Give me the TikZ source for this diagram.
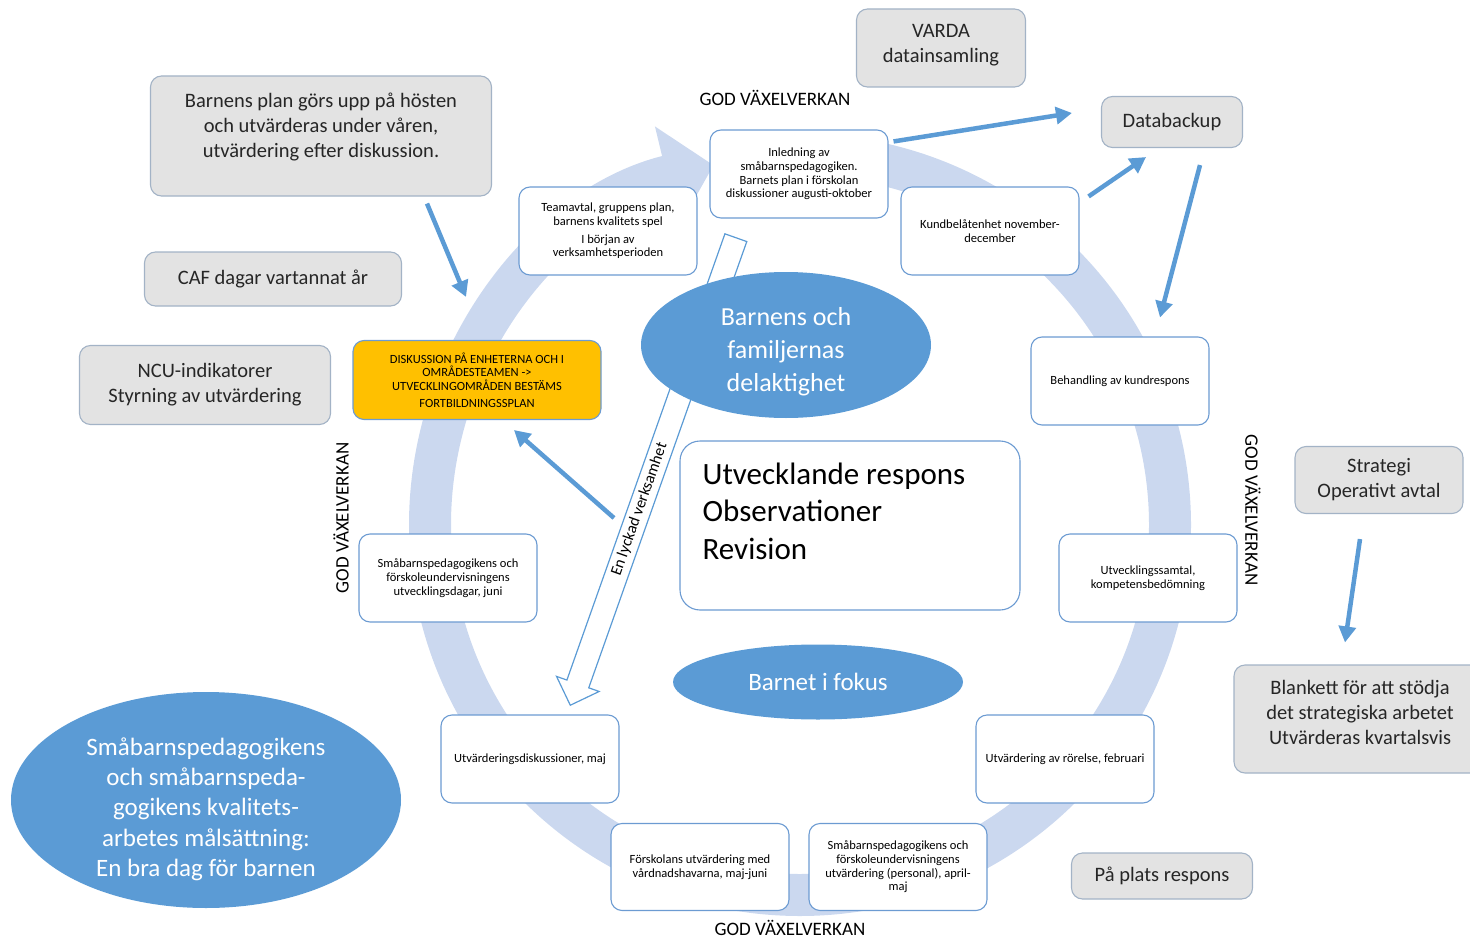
\documentclass[tikz,border=0pt]{standalone}
\usepackage{fontspec}
\setmainfont{Carlito}
\usetikzlibrary{arrows.meta,shapes.geometric,shapes.arrows}
\definecolor{offblue}{HTML}{5B9BD5}
\definecolor{ringblue}{HTML}{CBD8EF}
\definecolor{boxline}{HTML}{6C9BD2}
\definecolor{grayfill}{HTML}{E3E3E3}
\definecolor{grayline}{HTML}{A3B3C6}
\definecolor{discyellow}{HTML}{FFC000}
\begin{document}
\begin{tikzpicture}[x=1pt, y=-1pt,
  smallbox/.style={draw=boxline, line width=1.1pt, fill=white, rounded corners=11pt,
    minimum width=178pt, minimum height=88pt, align=center, inner sep=3pt,
    font=\fontsize{12.5}{13.7}\selectfont},
  graybox/.style={draw=grayline, line width=1.1pt, fill=grayfill, rounded corners=11pt,
    align=center, text=black!85, font=\fontsize{20.5}{25}\selectfont},
  blueell/.style={ellipse, fill=offblue, text=white, align=center, inner sep=-30pt},
  bluearr/.style={draw=offblue, line width=4.5pt, -{Triangle[length=16pt,width=17pt]}},
  godlabel/.style={inner sep=0pt, font=\fontsize{19}{22}\selectfont}]
\useasboundingbox (0,0) rectangle (1470,939);

\draw[ringblue, line width=42pt, -{Triangle[length=48pt,width=100pt]}]
  (800,525) ++(-452:370) arc[start angle=-452, end angle=-103.5, radius=370];

\node[smallbox] (inled) at (799,174) {Inledning av\\småbarnspedagogiken.\\Barnets plan i förskolan\\diskussioner augusti-oktober};
\node[smallbox] (team) at (608,231) {Teamavtal, gruppens plan,\\barnens kvalitets spel\\[4pt]I början av\\verksamhetsperioden};
\node[smallbox] (kund) at (990,231) {Kundbelåtenhet november-\\december};
\node[smallbox] (behand) at (1120,381) {Behandling av kundrespons};
\node[smallbox, fill=discyellow, minimum width=248pt, minimum height=79pt] (diskus) at (477,380)
  {DISKUSSION PÅ ENHETERNA OCH I\\OMRÅDESTEAMEN ->\\UTVECKLINGOMRÅDEN BESTÄMS\\[3pt]FORTBILDNINGSSPLAN};
\node[smallbox] (smaj) at (448,578) {Småbarnspedagogikens och\\förskoleundervisningens\\utvecklingsdagar, juni};
\node[smallbox] (utvsam) at (1148,578) {Utvecklingssamtal,\\kompetensbedömning};
\node[smallbox] (utvdisk) at (530,759) {Utvärderingsdiskussioner, maj};
\node[smallbox] (utvror) at (1065,759) {Utvärdering av rörelse, februari};
\node[smallbox, minimum height=87pt] (forsk) at (700,867) {Förskolans utvärdering med\\vårdnadshavarna, maj-juni};
\node[smallbox, minimum height=87pt] (smapers) at (898,867) {Småbarnspedagogikens och\\förskoleundervisningens\\utvärdering (personal), april-\\maj};

\node[single arrow, draw=offblue, line width=1.2pt, fill=white, minimum height=496pt,
  minimum width=44pt, single arrow head extend=11pt, single arrow tip angle=90,
  inner xsep=0pt, inner ysep=3pt, text height=12pt, text depth=4pt,
  rotate=70.5, shape border rotate=180, font=\fontsize{16}{18}\selectfont] (lyckad) at (655,466)
  {En lyckad verksamhet\hspace*{92pt}};

\node[blueell, minimum width=290pt, minimum height=146pt, font=\fontsize{26}{33}\selectfont] (delak) at (786,345)
  {\rule{0pt}{32pt}Barnens och\\familjernas\\delaktighet};
\node[blueell, minimum width=290pt, minimum height=75pt, font=\fontsize{25}{30}\selectfont] (fokus) at (818,682)
  {Barnet i fokus};
\node[blueell, minimum width=390pt, minimum height=216pt, font=\fontsize{25}{30.3}\selectfont] (malsat) at (206,800)
  {\rule{0pt}{36pt}Småbarnspedagogikens\\och småbarnspeda-\\gogikens kvalitets-\\arbetes målsättning:\\En bra dag för barnen};

\node[draw=boxline, line width=1.1pt, fill=white, rounded corners=20pt,
  minimum width=340pt, minimum height=169pt] (respons) at (850,525.5) {};
\node[anchor=north west, align=left, inner sep=0pt, font=\fontsize{31}{37.5}\selectfont] (responstxt)
  at ([shift={(23,22)}]respons.north west) {Utvecklande respons\\Observationer\\Revision};

\node[graybox, minimum width=169pt, minimum height=78pt] (varda) at (941,48) {VARDA\\datainsamling\rule[-10pt]{0pt}{1pt}};
\node[graybox, minimum width=341pt, minimum height=120pt] (plan) at (321,136)
  {Barnens plan görs upp på hösten\\och utvärderas under våren,\\utvärdering efter diskussion.\rule[-22pt]{0pt}{1pt}};
\node[graybox, minimum width=257pt, minimum height=54pt] (caf) at (273,279) {CAF dagar vartannat år};
\node[graybox, minimum width=251pt, minimum height=79pt] (ncu) at (205,385) {NCU-indikatorer\\Styrning av utvärdering};
\node[graybox, minimum width=141pt, minimum height=51pt] (dbk) at (1172,122) {Databackup};
\node[graybox, minimum width=168pt, minimum height=67pt] (strat) at (1379,480) {Strategi\\Operativt avtal};
\node[graybox, minimum width=252pt, minimum height=108pt] (blank) at (1360,719)
  {Blankett för att stödja\\det strategiska arbetet\\Utvärderas kvartalsvis\rule[-14pt]{0pt}{1pt}};
\node[graybox, minimum width=181pt, minimum height=46pt] (plats) at (1162,876) {På plats respons};

\node[godlabel] (godtop) at (775,98) {GOD VÄXELVERKAN};
\node[godlabel, rotate=90] (godleft) at (341,518) {GOD VÄXELVERKAN};
\node[godlabel, rotate=-90] (godright) at (1253,510) {GOD VÄXELVERKAN};
\node[godlabel] (godbottom) at (790,928) {GOD VÄXELVERKAN};

\coordinate (tilldisk) at (614,518);
\draw[bluearr] ([shift={(5,12)}]inled.north east) -- ([shift={(-29,-9)}]dbk.west);
\draw[bluearr] ([shift={(9,10)}]kund.north east) -- ([shift={(-26,9)}]dbk.south);
\draw[bluearr] ([shift={(28,17)}]dbk.south) -- ([shift={(40,-19)}]behand.north);
\draw[bluearr] ([shift={(106,7)}]plan.south) -- ([shift={(-11,-43)}]diskus.north);
\draw[bluearr] (tilldisk) -- ([shift={(37,10)}]diskus.south);
\draw[bluearr] ([shift={(-19,25)}]strat.south) -- ([shift={(-15,-22)}]blank.north);
\end{tikzpicture}
\end{document}
